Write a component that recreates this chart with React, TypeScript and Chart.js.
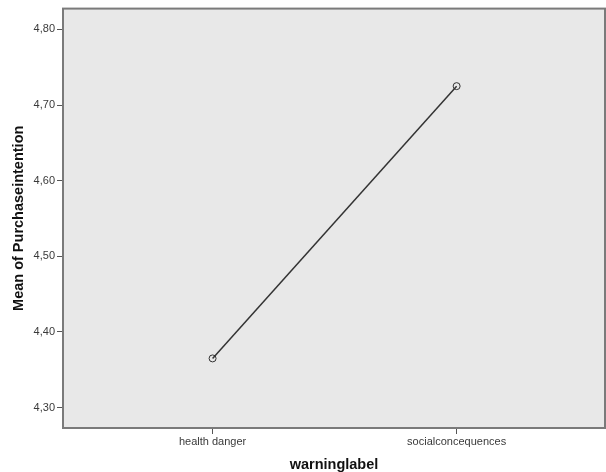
import React, { useEffect, useRef } from "react";
import { Chart, registerables } from "chart.js";

Chart.register(...registerables);

const categories = ["health danger", "socialconcequences"];
const categoryPositions = [1, 2];
const meanValues = [4.365, 4.725];
const yTickValues = [4.3, 4.4, 4.5, 4.6, 4.7, 4.8];
const xTitle = "warninglabel";
const yTitle = "Mean of Purchaseintention";

const plotFrame = {
  id: "plotFrame",
  beforeDatasetsDraw(chart: any) {
    const { ctx, chartArea } = chart;
    ctx.save();
    ctx.strokeStyle = "#7a7a7a";
    ctx.lineWidth = 2;
    ctx.strokeRect(chartArea.left, chartArea.top, chartArea.right - chartArea.left, chartArea.bottom - chartArea.top);
    ctx.restore();
  },
  beforeDraw(chart: any) {
    const { ctx, chartArea } = chart;
    ctx.save();
    ctx.fillStyle = "#ffffff";
    ctx.fillRect(0, 0, chart.width, chart.height);
    ctx.fillStyle = "#e8e8e8";
    ctx.fillRect(chartArea.left, chartArea.top, chartArea.right - chartArea.left, chartArea.bottom - chartArea.top);
    ctx.restore();
  },
};

export default function App() {
  const ref = useRef<HTMLCanvasElement | null>(null);
  useEffect(() => {
    document.body.style.margin = "0";
    if (!ref.current) return;
    const chart = new Chart(ref.current, {
      type: "line",
      data: {
        datasets: [
          {
            data: categoryPositions.map((x, i) => ({ x, y: meanValues[i] })),
            borderColor: "#333333",
            borderWidth: 1.5,
            pointRadius: 3.5,
            pointBorderWidth: 1,
            pointBorderColor: "#333333",
            pointBackgroundColor: "rgba(0,0,0,0)",
            fill: false,
          },
        ],
      },
      options: {
        animation: false,
        responsive: false,
        maintainAspectRatio: false,
        layout: { autoPadding: false, padding: { left: 0, right: 1, top: 8, bottom: 0 } },
        plugins: { legend: { display: false }, tooltip: { enabled: false } },
        scales: {
          x: {
            type: "linear",
            min: 0.387,
            max: 2.608,
            afterBuildTicks(axis: any) {
              axis.ticks = categoryPositions.map((v) => ({ value: v }));
            },
            afterFit(axis: any) {
              axis.height = 44;
            },
            ticks: {
              autoSkip: false,
              maxRotation: 0,
              padding: 1,
              color: "#3a3a3a",
              font: { family: "Liberation Sans, Arial, sans-serif", size: 11 },
              callback: (v: any) => {
                const i = categoryPositions.indexOf(Number(v));
                return i >= 0 ? categories[i] : "";
              },
            },
            grid: { drawOnChartArea: false, drawTicks: true, tickLength: 6, color: "#555555", lineWidth: 1 },
            border: { display: false },
            title: {
              display: true,
              text: xTitle,
              color: "#111111",
              font: { family: "Liberation Sans, Arial, sans-serif", size: 14.5, weight: "bold" },
              padding: { top: 0, bottom: -2 },
            },
          },
          y: {
            type: "linear",
            min: 4.273,
            max: 4.8275,
            afterBuildTicks(axis: any) {
              axis.ticks = yTickValues.map((v) => ({ value: v }));
            },
            afterFit(axis: any) {
              axis.width = 63;
            },
            ticks: {
              padding: 2,
              color: "#3a3a3a",
              font: { family: "Liberation Sans, Arial, sans-serif", size: 11 },
              callback: (v: any) => Number(v).toFixed(2).replace(".", ","),
            },
            grid: { drawOnChartArea: false, drawTicks: true, tickLength: 6, color: "#555555", lineWidth: 1 },
            border: { display: false },
            title: {
              display: true,
              text: yTitle,
              color: "#111111",
              font: { family: "Liberation Sans, Arial, sans-serif", size: 14.5, weight: "bold" },
              padding: { top: 10, bottom: 0 },
            },
          },
        },
      },
      plugins: [plotFrame],
    });
    return () => chart.destroy();
  }, []);
  return <canvas ref={ref} width={606} height={472} style={{ display: "block" }} />;
}
